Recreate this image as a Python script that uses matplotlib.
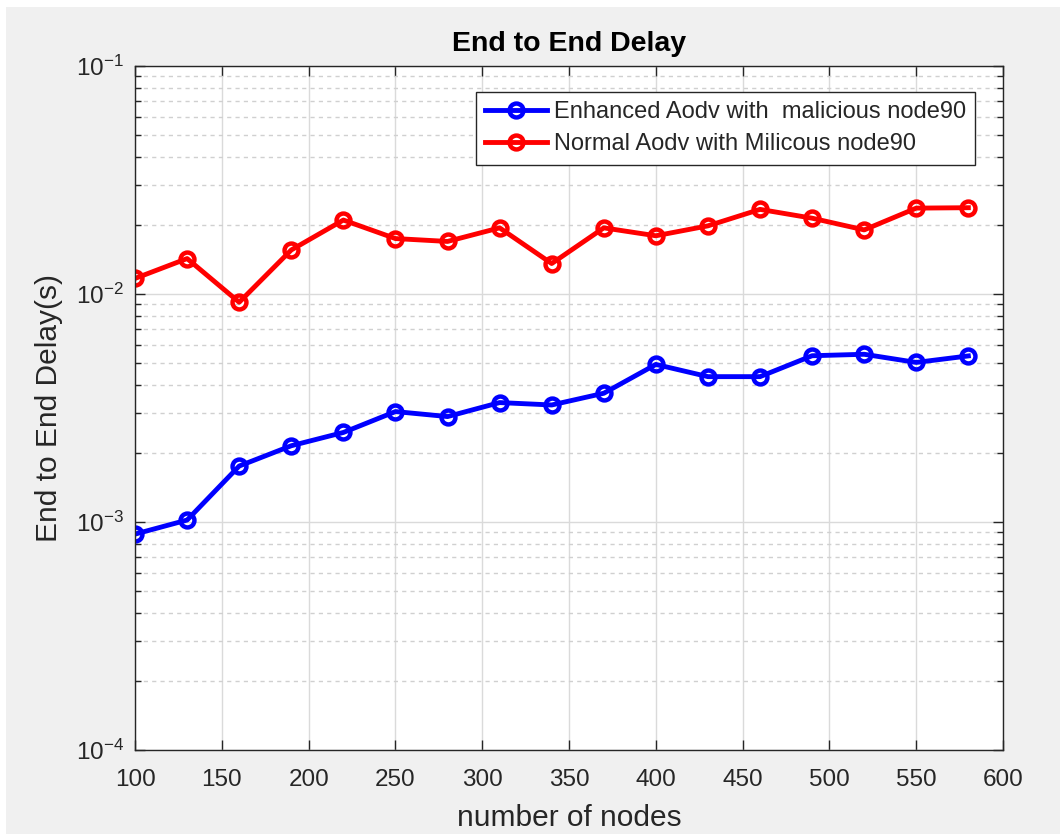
import matplotlib
matplotlib.use("Agg")
import matplotlib.pyplot as plt
from matplotlib.patches import Rectangle
from matplotlib.ticker import LogLocator, NullFormatter

plt.rcParams['font.family'] = ['Liberation Sans', 'DejaVu Sans']
plt.rcParams['mathtext.fontset'] = 'custom'
plt.rcParams['mathtext.rm'] = 'Liberation Sans'
plt.rcParams['mathtext.it'] = 'Liberation Sans:italic'

nodes = [100, 130, 160, 190, 220, 250, 280, 310, 340, 370, 400, 430, 460, 490, 520, 550, 580]
enhanced = [0.000885, 0.00102, 0.00176, 0.00216, 0.00247, 0.00305, 0.0029, 0.00334, 0.00326,
            0.00367, 0.00491, 0.00434, 0.00434, 0.00536, 0.00544, 0.00501, 0.00535]
normal = [0.0117, 0.0143, 0.0092, 0.0156, 0.0211, 0.0175, 0.0170, 0.0195, 0.0136,
          0.0195, 0.0180, 0.0199, 0.0235, 0.0215, 0.0191, 0.0238, 0.0239]
xticks = [100, 150, 200, 250, 300, 350, 400, 450, 500, 550, 600]

fig = plt.figure(figsize=(10.6, 8.34), dpi=100, facecolor='white')
# grey figure panel, leaving a thin white margin at top and left
fig.patches.append(Rectangle((6 / 1060, 0), 1, 1 - 7 / 834, transform=fig.transFigure,
                             facecolor='#f0f0f0', edgecolor='none', zorder=-10))
ax = fig.add_axes([0.1274, 0.1007, 0.8189, 0.8202])

ax.plot(nodes, enhanced, '-o', color=(0, 0, 1), lw=3.5, ms=10, mfc='none', mew=3.2,
        label='Enhanced Aodv with  malicious node90')
ax.plot(nodes, normal, '-o', color=(1, 0, 0), lw=3.5, ms=10, mfc='none', mew=3.2,
        label='Normal Aodv with Milicous node90')

ax.set_yscale('log')
ax.set_xlim(100, 600)
ax.set_ylim(1e-4, 1e-1)
ax.set_xticks(xticks)
ax.yaxis.set_major_locator(LogLocator(base=10, numticks=10))
ax.yaxis.set_minor_locator(LogLocator(base=10, subs=range(2, 10), numticks=10))
ax.yaxis.set_minor_formatter(NullFormatter())

ax.grid(True, which='major', color='#dadada', lw=1, ls='-')
ax.grid(True, which='minor', axis='y', color='#d0d0d0', lw=1, ls=(0, (3, 3)))
ax.set_axisbelow(True)

ax.tick_params(which='both', direction='in', top=True, right=True, colors='#262626',
               labelsize=17.5, width=1)
ax.tick_params(which='major', length=7)
ax.tick_params(axis='x', which='major', pad=14)
ax.tick_params(axis='y', which='major', pad=8)
ax.tick_params(which='minor', length=4)
for s in ax.spines.values():
    s.set_color('#262626')
    s.set_linewidth(1)

ax.set_title('End to End Delay', fontsize=20.5, fontweight='bold', color='black', pad=11)
ax.set_xlabel('number of nodes', fontsize=21.5, color='#262626', labelpad=9)
ax.set_ylabel('End to End Delay(s)', fontsize=21.5, color='#262626')
ax.yaxis.set_label_coords(-0.083, 0.5)

leg = ax.legend(loc='upper right', bbox_to_anchor=(0.968, 0.962), fontsize=17,
                frameon=True, fancybox=False, framealpha=1, edgecolor='#262626',
                handlelength=2.6, borderpad=0.4, labelspacing=0.42, handletextpad=0.3,
                borderaxespad=0)
leg.get_frame().set_linewidth(1)
for t in leg.get_texts():
    t.set_color('#262626')

fig.savefig('out.png', dpi=100, facecolor=fig.get_facecolor())
